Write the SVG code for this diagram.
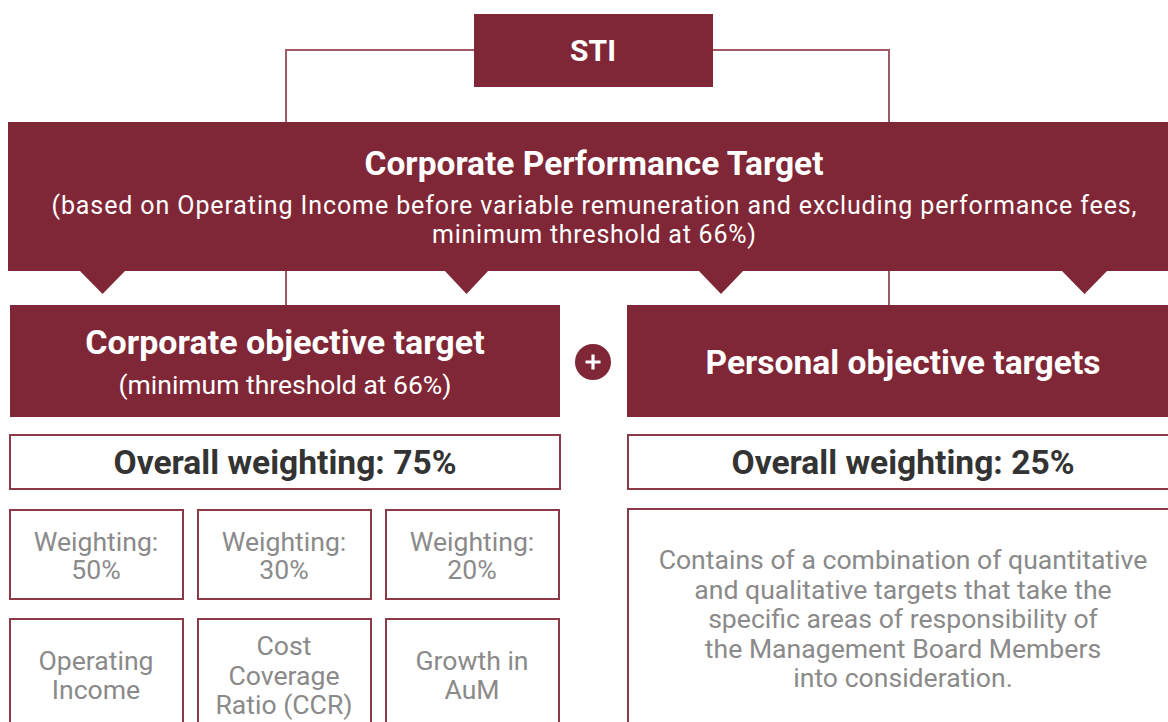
<svg xmlns="http://www.w3.org/2000/svg" width="1168" height="722" viewBox="0 0 1168 722">
<style>
.fill{fill:#802737;}
.wbox{fill:#ffffff;stroke:#8c3a48;stroke-width:2;}
.conn{fill:none;stroke:#a05a66;stroke-width:2;}
text{font-family:Roboto,"Liberation Sans",sans-serif;text-anchor:middle;}
.wt{fill:#ffffff;}
.b{font-weight:bold;}
.dark{fill:#333333;font-weight:bold;font-size:33.6px;}
.gray{fill:#8a8a8a;font-size:26.6px;}
</style>
<g id="connectors">
<path class="conn" d="M474 50 H286 V122"/>
<path class="conn" d="M712 50 H889 V122"/>
<path class="conn" d="M286 271 V306"/>
<path class="conn" d="M889 271 V306"/>
</g>
<g id="sti">
<rect class="fill" x="474" y="14" width="239" height="73"/>
<text class="wt b" x="593" y="61" font-size="30">STI</text>
</g>
<g id="cpt">
<rect class="fill" x="8" y="122" width="1162" height="149"/>
<polygon class="fill" points="79,270 126,270 102.5,294"/>
<polygon class="fill" points="444,270 489,270 466.5,294"/>
<polygon class="fill" points="698,270 744,270 721,294"/>
<polygon class="fill" points="1061,270 1108,270 1084.5,294"/>
<text class="wt b" x="594" y="175" font-size="33.5">Corporate Performance Target</text>
<text class="wt" x="594" y="214" font-size="25" textLength="1085" lengthAdjust="spacing">(based on Operating Income before variable remuneration and excluding performance fees,</text>
<text class="wt" x="594" y="243" font-size="25" textLength="324" lengthAdjust="spacing">minimum threshold at 66%)</text>
</g>
<g id="corp">
<rect class="fill" x="10" y="305" width="550" height="112"/>
<text class="wt b" x="285" y="354" font-size="34">Corporate objective target</text>
<text class="wt" x="285" y="394" font-size="26.5">(minimum threshold at 66%)</text>
</g>
<g id="plus">
<circle class="fill" cx="593" cy="362" r="18"/>
<path d="M585.5 362 H600.5 M593 354.5 V369.5" stroke="#ffffff" stroke-width="3.2" fill="none"/>
</g>
<g id="personal">
<rect class="fill" x="627" y="305" width="545" height="112"/>
<text class="wt b" x="903" y="374" font-size="33.6">Personal objective targets</text>
</g>
<g id="ow75">
<rect class="wbox" x="10" y="435" width="550" height="54"/>
<text class="dark" x="285" y="474">Overall weighting: 75%</text>
</g>
<g id="ow25">
<rect class="wbox" x="628" y="435" width="545" height="54"/>
<text class="dark" x="903" y="474">Overall weighting: 25%</text>
</g>
<g id="w50">
<rect class="wbox" x="10" y="510" width="173" height="89"/>
<text class="gray" x="96" y="551">Weighting:</text>
<text class="gray" x="96" y="579">50%</text>
</g>
<g id="w30">
<rect class="wbox" x="198" y="510" width="173" height="89"/>
<text class="gray" x="284" y="551">Weighting:</text>
<text class="gray" x="284" y="579">30%</text>
</g>
<g id="w20">
<rect class="wbox" x="386" y="510" width="173" height="89"/>
<text class="gray" x="472" y="551">Weighting:</text>
<text class="gray" x="472" y="579">20%</text>
</g>
<g id="opinc">
<rect class="wbox" x="10" y="619" width="173" height="120"/>
<text class="gray" x="96" y="670">Operating</text>
<text class="gray" x="96" y="699">Income</text>
</g>
<g id="ccr">
<rect class="wbox" x="198" y="619" width="173" height="120"/>
<text class="gray" x="284" y="655">Cost</text>
<text class="gray" x="284" y="685">Coverage</text>
<text class="gray" x="284" y="714">Ratio (CCR)</text>
</g>
<g id="aum">
<rect class="wbox" x="386" y="619" width="173" height="120"/>
<text class="gray" x="472" y="670">Growth in</text>
<text class="gray" x="472" y="699">AuM</text>
</g>
<g id="desc">
<rect class="wbox" x="628" y="509" width="545" height="230"/>
<text class="gray" x="903" y="569">Contains of a combination of quantitative</text>
<text class="gray" x="903" y="599">and qualitative targets that take the</text>
<text class="gray" x="903" y="628">specific areas of responsibility of</text>
<text class="gray" x="903" y="658">the Management Board Members</text>
<text class="gray" x="903" y="687">into consideration.</text>
</g>
</svg>
